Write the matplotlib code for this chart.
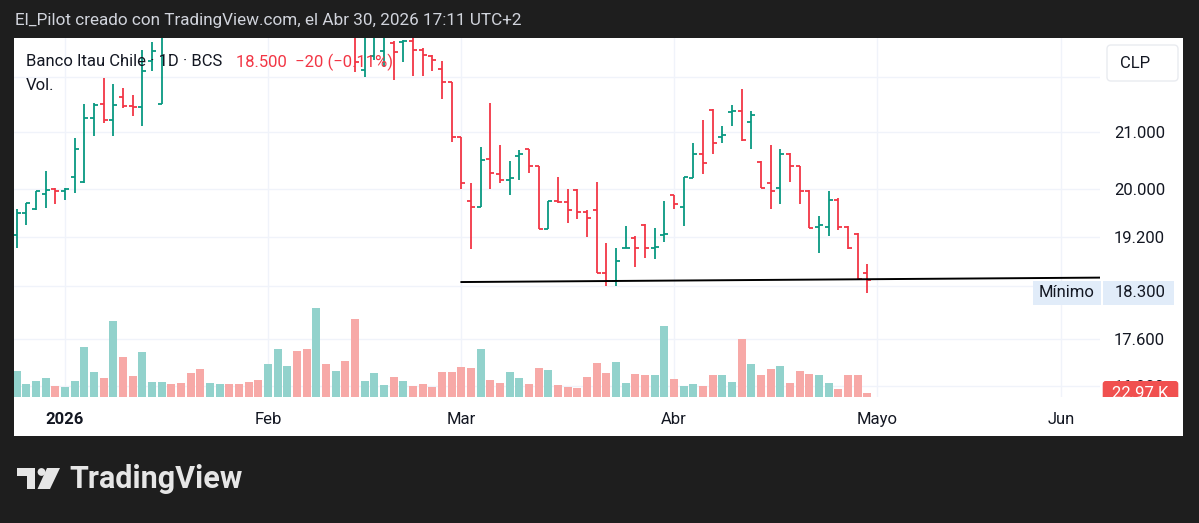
import numpy as np
import matplotlib.pyplot as plt
from matplotlib.patches import Rectangle, FancyBboxPatch, Circle, Polygon
from matplotlib.ticker import NullLocator

plt.rcParams['font.family'] = ['Roboto', 'DejaVu Sans']

# Banco Itau Chile, velas diarias (OHLC en miles de CLP); indice = sesion
open_ = [19.22, 19.59, 19.66, 19.92, 20.00, 19.96, 20.20, 20.11, 21.25, 21.51,
         21.21, 21.63, 21.47, 21.44, 22.30, 21.51, 23.35, 23.10, 23.00, 22.95,
         22.85, 23.10, 23.25, 23.10, 23.05, 22.95, 22.85, 23.30, 23.80, 24.00,
         23.60, 23.20, 23.75, 23.30, 23.45, 23.00, 22.14, 22.40, 22.50, 22.66,
         22.68, 22.70, 22.52, 22.40, 22.15, 21.91, 20.90, 19.80, 19.70, 20.52,
         20.26, 20.16, 20.57, 20.70, 20.40, 19.33, 19.80, 19.77, 19.98, 19.61,
         19.65, 18.61, 18.49, 19.01, 19.18, 19.40, 19.01, 19.22, 19.90, 19.69,
         20.19, 20.60, 21.39, 20.91, 21.35, 21.37, 21.18, 20.47, 20.10, 20.02,
         20.61, 20.39, 19.96, 19.36, 19.36, 19.81, 19.36, 19.25, 18.61]
high = [19.66, 19.76, 19.97, 20.31, 20.02, 20.02, 20.89, 21.51, 21.53, 21.99,
        21.87, 21.80, 21.67, 22.51, 22.67, 23.20, 23.50, 23.25, 23.15, 23.05,
        23.20, 23.35, 23.30, 23.20, 23.10, 23.00, 23.40, 23.90, 24.10, 24.20,
        23.70, 23.90, 23.85, 23.60, 23.55, 23.10, 22.95, 22.95, 22.95, 22.70,
        22.72, 22.78, 22.55, 22.42, 22.30, 21.92, 20.90, 20.10, 20.73, 21.53,
        20.76, 20.48, 20.67, 20.70, 20.40, 19.80, 20.20, 20.00, 19.99, 19.65,
        20.11, 19.09, 19.02, 19.38, 19.21, 19.41, 19.34, 19.80, 19.90, 20.20,
        20.80, 21.22, 21.42, 21.11, 21.48, 21.78, 21.37, 20.48, 20.76, 20.69,
        20.62, 20.40, 19.98, 19.55, 19.96, 19.84, 19.37, 19.26, 18.75]
low = [19.01, 19.40, 19.65, 19.67, 19.75, 19.81, 19.93, 20.10, 20.92, 21.15,
       20.93, 21.43, 21.28, 21.10, 22.12, 21.50, 23.00, 22.90, 22.82, 22.80,
       22.80, 23.00, 23.05, 22.95, 22.85, 22.80, 22.80, 23.20, 23.60, 23.50,
       23.10, 23.05, 23.20, 23.10, 22.90, 22.10, 22.01, 22.33, 22.19, 21.95,
       22.29, 22.02, 22.02, 22.11, 21.60, 20.82, 20.00, 19.00, 19.70, 20.00,
       20.10, 19.89, 20.15, 20.28, 19.32, 19.32, 19.76, 19.43, 19.49, 19.19,
       18.61, 18.40, 18.40, 19.01, 18.71, 18.86, 18.84, 19.11, 19.66, 19.37,
       20.18, 20.26, 20.60, 20.80, 21.10, 20.83, 20.70, 20.01, 19.66, 19.75,
       20.11, 19.75, 19.34, 18.94, 19.21, 19.31, 19.00, 18.51, 18.30]
close = [19.59, 19.76, 19.97, 19.98, 19.96, 19.99, 20.70, 21.25, 21.48, 21.21,
         21.49, 21.47, 21.44, 22.12, 22.50, 23.10, 23.10, 23.00, 22.88, 22.85,
         23.10, 23.25, 23.10, 23.00, 22.90, 22.85, 23.30, 23.80, 23.95, 23.60,
         23.20, 23.75, 23.30, 23.45, 23.00, 22.28, 22.85, 22.85, 22.85, 22.48,
         22.70, 22.52, 22.42, 22.33, 21.91, 20.90, 20.10, 19.70, 20.50, 20.27,
         20.15, 20.18, 20.60, 20.40, 19.33, 19.80, 19.77, 19.65, 19.61, 19.50,
         18.61, 18.49, 18.81, 19.02, 19.01, 19.01, 19.03, 19.25, 19.74, 20.20,
         20.61, 20.45, 20.80, 20.95, 21.38, 20.85, 21.30, 20.02, 19.97, 20.61,
         20.40, 19.96, 19.35, 19.40, 19.81, 19.36, 19.02, 18.52, 18.50]
# volumen en miles
volume = [196, 99, 115, 140, 82, 69, 120, 380, 189, 138,
          579, 303, 158, 342, 112, 112, 94, 107, 176, 209,
          107, 94, 94, 94, 112, 128, 247, 362, 235, 349,
          362, 676, 247, 196, 273, 592, 115, 179, 87, 150,
          115, 82, 94, 74, 189, 184, 222, 217, 362, 125,
          102, 189, 145, 94, 217, 201, 89, 74, 64, 150,
          258, 179, 265, 102, 171, 166, 168, 536, 135, 82,
          97, 79, 163, 168, 112, 439, 247, 163, 207, 237,
          102, 194, 171, 168, 102, 54, 163, 163, 23]

month_idx = [5, 26, 46, 68, 89, 108]
month_lbl = ['2026', 'Feb', 'Mar', 'Abr', 'Mayo', 'Jun']
price_ticks = [16.9, 17.6, 18.4, 19.2, 20.0, 21.0, 22.0]
# etiquetas que TradingView oculta por solaparse con otras
hidden_ticks = [18.4, 22.0]
trend_x = [46, 112.1]
trend_y = [18.47, 18.54]
last_vol_lbl = '22.97 K'

UP, DN = '#089981', '#f23645'
VUP, VDN = '#92d2cc', '#f7a9a7'
TXT = '#131722'
GRID = '#f0f3fa'
FS = 12

W, H = 1199, 523
fig = plt.figure(figsize=(W / 100, H / 100), dpi=100, facecolor='#1e1e1e')


def fbox(x0, y0, x1, y1):
    return [x0 / W, 1 - y1 / H, (x1 - x0) / W, (y1 - y0) / H]


# panel blanco
fig.patches.append(Rectangle((14 / W, 1 - 436 / H), (1183 - 14) / W, (436 - 38) / H,
                             transform=fig.transFigure, fc='white', ec='none', zorder=-5))

ax = fig.add_axes(fbox(14, 38, 1100, 396.5))
x = np.arange(len(close))
o, h, l, c = map(np.array, (open_, high, low, close))
col = np.where(c >= o, UP, DN)

ax.set_yscale('log')
ax.set_ylim(16.75, 22.75)
ax.set_xlim(-0.28, 112.06)
ax.vlines(x, l, h, colors=col, lw=1.3)
ax.hlines(o, x - 0.42, x, colors=col, lw=1.3)
ax.hlines(c, x, x + 0.42, colors=col, lw=1.3)
ax.plot(trend_x, trend_y, color='black', lw=1.4)

axv = ax.twinx()
vcol = np.where(c >= o, VUP, VDN)
axv.bar(x, volume, width=0.82, color=vcol)
axv.set_ylim(0, 2743)
axv.set_axis_off()

ax.yaxis.set_minor_locator(NullLocator())
ax.set_yticks(price_ticks)
ax.set_yticklabels(['' if v in hidden_ticks else f'{v:.3f}' for v in price_ticks])
ax.set_xticks(month_idx)
ax.set_xticklabels(month_lbl)
ax.get_xticklabels()[0].set_fontweight('bold')
ax.tick_params(axis='y', length=0, pad=10, labelsize=FS, labelcolor=TXT,
               left=False, labelleft=False, right=False, labelright=True)
ax.tick_params(axis='x', length=0, pad=11, labelsize=FS, labelcolor=TXT)
ax.grid(True, color=GRID, lw=1)
ax.set_axisbelow(True)
for s in ax.spines.values():
    s.set_visible(False)

# capa de anotaciones en pixeles
ov = fig.add_axes([0, 0, 1, 1], zorder=10)
ov.set_xlim(0, W)
ov.set_ylim(H, 0)
ov.set_axis_off()

ov.text(15, 21, 'El_Pilot creado con TradingView.com, el Abr 30, 2026 17:11 UTC+2',
        color='#d1d4dc', fontsize=12.3, va='center')
ov.text(26, 62, 'Banco Itau Chile · 1D · BCS', color=TXT, fontsize=FS, va='center')
ov.text(236, 62, f'{close[-1]:.3f}  −20 (−0.11%)', color=DN, fontsize=FS, va='center')
ov.text(26, 85, 'Vol.', color=TXT, fontsize=FS, va='center')

# etiqueta del minimo
ymin_px = H - ax.transData.transform((0, min(low)))[1]
ov.add_patch(Rectangle((1032.7, ymin_px - 12), 68, 24, fc='#e1ecf9', ec='none'))
ov.add_patch(Rectangle((1102.7, ymin_px - 12), 71.3, 24, fc='#e1ecf9', ec='none'))
ov.text(1067, ymin_px, 'Mínimo', color=TXT, fontsize=FS, ha='center', va='center')
ov.text(1115, ymin_px, f'{min(low):.3f}', color=TXT, fontsize=FS, va='center')

# CLP
ov.add_patch(FancyBboxPatch((1107, 45), 71, 36, boxstyle='round,pad=0,rounding_size=4',
                            fc='white', ec='#e9ebf0', lw=1))
ov.text(1135, 63, 'CLP', color=TXT, fontsize=FS, ha='center', va='center')

# ultimo volumen, recortado por el panel
axr = fig.add_axes(fbox(1100, 38, 1185, 396.5), zorder=11)
axr.set_xlim(1100, 1185)
axr.set_ylim(396.5, 38)
axr.set_axis_off()
axr.add_patch(FancyBboxPatch((1102.7, 381), 75.6, 20, boxstyle='round,pad=0,rounding_size=3',
                             fc='#f0504f', ec='none', clip_on=True))
axr.text(1140, 394, last_vol_lbl, color='white', fontsize=FS, ha='center', va='center',
         clip_on=True)

# logo TradingView
lc = '#e6e6e6'
ov.add_patch(Rectangle((16.7, 468), 18.3, 8, fc=lc, ec='none'))
ov.add_patch(Rectangle((27, 468), 8, 21, fc=lc, ec='none'))
ov.add_patch(Circle((41.5, 472), 3.9, fc=lc, ec='none'))
ov.add_patch(Polygon([(47, 468), (60, 468), (50, 489), (37.5, 489)], closed=True, fc=lc, ec='none'))
ov.text(69, 479, 'TradingView', color=lc, fontsize=22, fontweight='bold', va='center')

fig.savefig('out.png', dpi=100, facecolor=fig.get_facecolor())
